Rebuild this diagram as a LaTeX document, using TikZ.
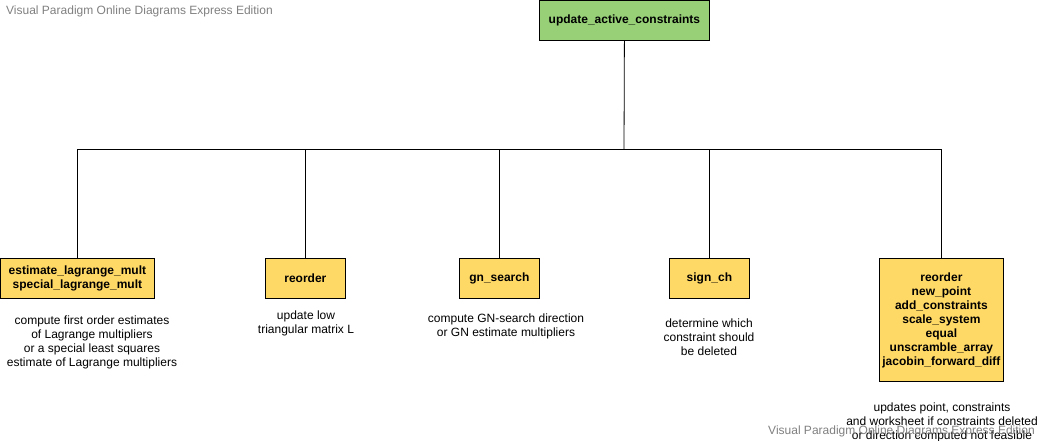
\documentclass[tikz,border=0pt]{standalone}
\usepackage{fontspec}
\setmainfont{Liberation Sans}
\definecolor{rootgreen}{HTML}{97D077}
\definecolor{boxyellow}{HTML}{FFD966}
\definecolor{wmgray}{HTML}{808080}
\begin{document}
\begin{tikzpicture}[x=1pt,y=-1pt,
  box/.style={draw=black,line width=0.8pt,font=\fontsize{12}{14}\selectfont\bfseries,align=center,inner sep=0pt,anchor=north west},
  rootbox/.style={box,fill=rootgreen},
  childbox/.style={box,fill=boxyellow},
  desc/.style={font=\fontsize{12}{14}\selectfont,align=center,inner sep=0pt,anchor=north},
  wm/.style={font=\fontsize{12}{14}\selectfont,text=wmgray,inner sep=0pt},
  link/.style={line width=0.8pt}]
\useasboundingbox (0,0) rectangle (1040,441);
\node[wm,anchor=west] (wm1) at (6,11) {Visual Paradigm Online Diagrams Express Edition};
\node[rootbox,minimum width=170pt,minimum height=40pt] (root) at (539,0) {update\_active\_constraints};
\node[childbox,minimum width=154pt,minimum height=40pt] (c1) at (0,258) {estimate\_lagrange\_mult\\special\_lagrange\_mult};
\node[childbox,minimum width=80pt,minimum height=40pt] (c2) at (265,258) {reorder};
\node[childbox,minimum width=80pt,minimum height=40pt] (c3) at (459,258) {gn\_search};
\node[childbox,minimum width=80pt,minimum height=40pt] (c4) at (669,258) {sign\_ch};
\node[childbox,minimum width=124pt,minimum height=123pt] (c5) at (879,258) {reorder\\new\_point\\add\_constraints\\scale\_system\\equal\\unscramble\_array\\jacobin\_forward\_diff};
\coordinate (bus) at (624,149);
\draw[link] (root.south) -- (bus);
\foreach \c in {c1,c2,c3,c4,c5}{
  \draw[link] (\c.north) -- (\c.north |- bus);
}
\draw[link] (c1.north |- bus) -- (c5.north |- bus);
\node[desc] (d1) at (92,316) {compute first order estimates\\of Lagrange multipliers\\or a special least squares\\estimate of Lagrange multipliers};
\node[desc] (d2) at (306,311) {update low\\triangular matrix L};
\node[desc] (d3) at (506,314) {compute GN-search direction\\or GN estimate multipliers};
\node[desc] (d4) at (709,319) {determine which\\constraint should\\be deleted};
\node[desc] (d5) at (942,403) {updates point, constraints\\and worksheet if constraints deleted\\or direction computed not feasible};
\node[wm,anchor=west] (wm2) at (768,431) {Visual Paradigm Online Diagrams Express Edition};
\end{tikzpicture}
\end{document}
